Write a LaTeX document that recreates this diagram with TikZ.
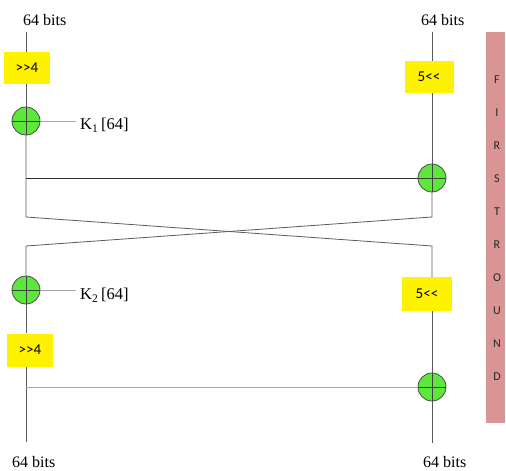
\documentclass[tikz,border=0pt]{standalone}
\usepackage{fontspec}
\setmainfont{Liberation Serif}
\newfontfamily\boxfont{Carlito}
\definecolor{xorgreen}{HTML}{5CE83A}
\definecolor{barpink}{HTML}{D99594}
\definecolor{wiregray}{HTML}{5A5A5A}
\definecolor{lightwire}{HTML}{A8A8A8}
\begin{document}
\begin{tikzpicture}[x=1pt,y=-1pt,
  shiftbox/.style={fill=yellow, inner sep=0pt, minimum width=46pt, minimum height=32pt, font=\boxfont\fontsize{15}{15}\selectfont},
  xorc/.style={circle, draw=black!70, fill=xorgreen, minimum size=28pt, inner sep=0pt, line width=0.8pt},
  wire/.style={draw=wiregray, line width=0.8pt},
  lwire/.style={draw=lightwire, line width=0.9pt},
  bits/.style={font=\fontsize{16}{16}\selectfont, inner sep=0pt},
  keylab/.style={font=\fontsize{16.5}{16.5}\selectfont, inner sep=0pt, anchor=west},
  barletter/.style={font=\boxfont\fontsize{12}{12}\selectfont, text=black!85, inner sep=0pt}
]
\useasboundingbox (0,0) rectangle (506,471);

% pink bar
\fill[barpink] (486,32) rectangle (505,423);
\foreach \l [count=\i from 0] in {F,I,R,S,T,R,O,U,N,D}
  \node[barletter] (bl\i) at (497,{80+33*\i}) {\l};

% labels
\node[bits, anchor=west] (inL) at (23,20) {64 bits};
\node[bits, anchor=west] (inR) at (421,20) {64 bits};
\node[bits, anchor=west] (outL) at (12,462) {64 bits};
\node[bits, anchor=west] (outR) at (423,462) {64 bits};

% coordinates
\coordinate (lt) at (26,32);
\coordinate (rt) at (432,32);
\coordinate (lx1) at (26,217);
\coordinate (rx1) at (432,217);
\coordinate (lx2) at (26,246);
\coordinate (rx2) at (432,246);
\coordinate (lb) at (26,442);
\coordinate (rb) at (432,443);
\coordinate (h1) at (26,178);
\coordinate (h2) at (26,387);
\coordinate (k1e) at (76,121);
\coordinate (k2e) at (76,290);

% boxes
\node[shiftbox] (s1) at (27,68) {>>4};
\node[shiftbox, minimum width=49pt] (s2) at (429,77) {5<<};
\node[shiftbox, minimum height=33pt] (s3) at (30,350) {>>4};
\node[shiftbox, minimum width=50pt, minimum height=34pt] (s4) at (427,294) {5<<};

% xor circles
\node[xorc] (x1) at (26,121) {};
\node[xorc] (x2) at (432,178) {};
\node[xorc] (x3) at (26,290) {};
\node[xorc] (x4) at (432,387) {};

% wires
\draw[wire] (lt) -- (lt |- s1.north);
\draw[wire] (lt |- s1.south) -- (x1.north);
\draw[wire] (x1.south) -- (lx1) -- (rx2) -- (rx2 |- s4.north);
\draw[wire] (rx2 |- s4.south) -- (x4.north);
\draw[wire] (x4.south) -- (rb);
\draw[wire] (rt) -- (rt |- s2.north);
\draw[wire] (rt |- s2.south) -- (x2.north);
\draw[wire] (x2.south) -- (rx1) -- (lx2) -- (x3.north);
\draw[wire] (x3.south) -- (x3.south |- s3.north);
\draw[wire] (x3.south |- s3.south) -- (lb);
\draw[draw=black!80, line width=0.8pt] (h1) -- (x2.west);
\draw[lwire] (h2) -- (x4.west);
\draw[lwire] (x1.east) -- (k1e);
\draw[lwire] (x3.east) -- (k2e);

% crosses in circles
\foreach \c in {x1,x2,x3,x4}{
  \draw[draw=black!75, line width=0.7pt] (\c.north) -- (\c.south) (\c.west) -- (\c.east);
}

% key labels
\node[keylab] (k1) at (80,125) {K\textsubscript{1}\,[64]};
\node[keylab] (k2) at (80,295) {K\textsubscript{2}\,[64]};
\end{tikzpicture}
\end{document}
